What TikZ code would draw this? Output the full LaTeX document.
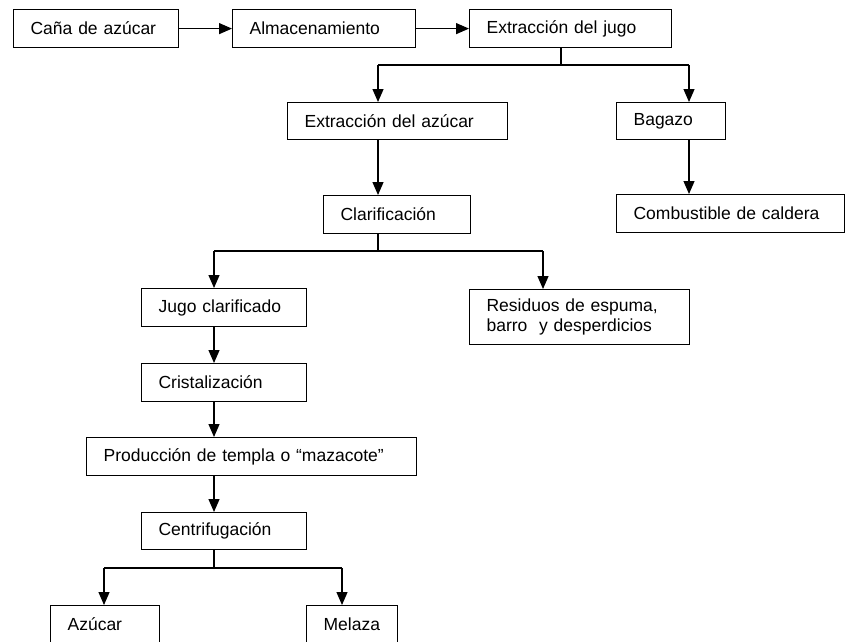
\documentclass[tikz,border=0pt]{standalone}
\usepackage{fontspec}
\setmainfont{Liberation Sans}
\usetikzlibrary{arrows.meta, positioning}

\begin{document}
\begin{tikzpicture}[x=1pt, y=-1pt, >={Triangle[length=13pt, width=11pt]}, line width=1.2pt,
    box/.style={draw, anchor=north west, align=left, inner xsep=17pt, inner ysep=0pt,
        minimum height=38pt, text width=#1, font=\fontsize{17.5}{20}\selectfont}]

            \useasboundingbox (0,0) rectangle (845,641);
            \clip (0,0) rectangle (845,641);

            % Top row
            \node[box=131pt] (cana) at (13,9) {Caña de azúcar};
            \node[box=149pt] (almacen) at (232,9) {Almacenamiento};
            \node[box=168pt] (extJugo) at (469,9) {Extracción del jugo};

            % Products of the juice extraction
            \node[box=186pt, minimum height=37pt] (extAzucar) at (287,102) {Extracción del azúcar};
            \node[box=75pt, minimum height=37pt] (bagazo) at (616,102) {Bagazo};
            \node[box=194pt] (combustible) at (616,194) {Combustible de caldera};
            \node[box=113pt] (clarif) at (323,195) {Clarificación};

            % Products of the clarification
            \node[box=131pt] (jugoClar) at (141,288) {Jugo clarificado};
            \node[box=186pt, minimum height=55pt] (residuos) at (469,289) {Residuos de espuma,\\ barro\ \ y desperdicios};

            % Crystallization chain
            \node[box=131pt] (cristal) at (141,363) {Cristalización};
            \node[box=296pt] (produccion) at (86,437) {Producción de templa o “mazacote”};
            \node[box=131pt, minimum height=37pt] (centrif) at (141,512) {Centrifugación};

            % Final products
            \node[box=75pt] (azucar) at (50,605) {Azúcar};
            \node[box=57pt] (melaza) at (306,605) {Melaza};

            % Branch points
            \coordinate (splitJugo) at (561,65);
            \coordinate (toAzucar) at (378,65);
            \coordinate (toBagazo) at (689,65);
            \coordinate (splitClarif) at (378,251);
            \coordinate (toJugoClar) at (214,251);
            \coordinate (toResiduos) at (543,251);
            \coordinate (splitCentrif) at (214,568);
            \coordinate (toAzucarFin) at (104,568);
            \coordinate (toMelaza) at (342,568);

            % Arrows
            \draw[->] (cana) -- (almacen);
            \draw[->] (almacen) -- (extJugo);

            \draw (extJugo.south -| splitJugo) -- (splitJugo);
            \draw (toAzucar) -- (toBagazo);
            \draw[->] (toAzucar) -- (toAzucar |- extAzucar.north);
            \draw[->] (toBagazo) -- (toBagazo |- bagazo.north);
            \draw[->] (bagazo.south -| toBagazo) -- (combustible.north -| toBagazo);
            \draw[->] (extAzucar.south -| toAzucar) -- (clarif.north -| toAzucar);

            \draw (clarif.south -| splitClarif) -- (splitClarif);
            \draw (toJugoClar) -- (toResiduos);
            \draw[->] (toJugoClar) -- (jugoClar.north -| toJugoClar);
            \draw[->] (toResiduos) -- (residuos.north -| toResiduos);

            \draw[->] (jugoClar.south -| toJugoClar) -- (cristal.north -| toJugoClar);
            \draw[->] (cristal.south -| toJugoClar) -- (produccion.north -| toJugoClar);
            \draw[->] (produccion.south -| toJugoClar) -- (centrif.north -| toJugoClar);

            \draw (centrif.south -| splitCentrif) -- (splitCentrif);
            \draw (toAzucarFin) -- (toMelaza);
            \draw[->] (toAzucarFin) -- (azucar.north -| toAzucarFin);
            \draw[->] (toMelaza) -- (melaza.north -| toMelaza);

        \end{tikzpicture}
\end{document}
